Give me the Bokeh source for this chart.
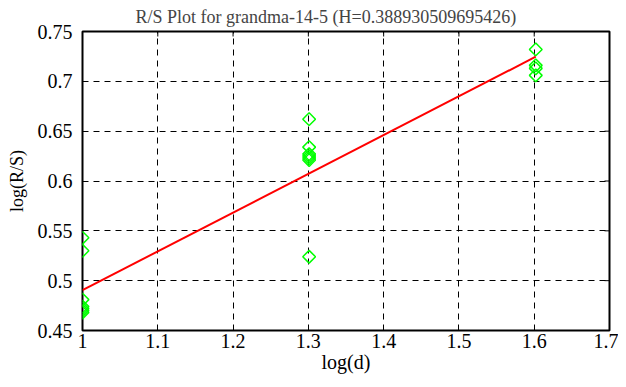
import numpy as np
from bokeh.plotting import figure
from bokeh.models import FixedTicker, Range1d
from bokeh.embed import file_html
from bokeh.resources import INLINE

title_text = "R/S Plot for grandma-14-5 (H=0.388930509695426)"

# data: log(d) and log(R/S)
x_d10 = [1.0] * 7
y_d10 = [0.543, 0.530, 0.481, 0.474, 0.472, 0.470, 0.468]
x_d20 = [1.30103] * 7
y_d20 = [0.662, 0.634, 0.627, 0.625, 0.623, 0.621, 0.524]
x_d40 = [1.60206] * 4
y_d40 = [0.732, 0.716, 0.713, 0.706]

fit_x = [1.0, 1.60206]
fit_y = [0.4905, 0.7247]

x_ticks = [1.0, 1.1, 1.2, 1.3, 1.4, 1.5, 1.6, 1.7]
x_tick_labels = ["1", "1.1", "1.2", "1.3", "1.4", "1.5", "1.6", "1.7"]
y_ticks = [0.45, 0.5, 0.55, 0.6, 0.65, 0.7, 0.75]
y_tick_labels = ["0.45", "0.5", "0.55", "0.6", "0.65", "0.7", "0.75"]

FONT = "Liberation Serif"
X0, X1 = 1.0, 1.7
Y0, Y1 = 0.45, 0.75
W, H = 618, 379
BL, BR, BT, BB = 82, 9, 31, 49
TICK_PX = 5

p = figure(width=W, height=H, output_backend="svg", toolbar_location=None,
           x_range=Range1d(X0, X1), y_range=Range1d(Y0, Y1),
           min_border_left=BL, min_border_right=BR, min_border_top=BT, min_border_bottom=BB)
p.background_fill_color = "white"
p.border_fill_color = "white"
p.outline_line_color = "black"
p.outline_line_width = 2

p.title.text = title_text
p.title.text_font = FONT
p.title.text_font_size = "18px"
p.title.text_font_style = "normal"
p.title.align = "left"
p.title.offset = 53
p.title.standoff = 9

frame_h = H - BT - BB
for g, t in ((p.xgrid[0], x_ticks), (p.ygrid[0], y_ticks)):
    g.ticker = FixedTicker(ticks=t)
    g.grid_line_color = "black"
    g.grid_line_dash = "6 5"
    g.grid_line_width = 1

# inward ticks on the top and right edges of the box
dy = TICK_PX * (Y1 - Y0) / frame_h
dx = TICK_PX * (X1 - X0) / (W - BL - BR)
p.segment(x0=x_ticks, y0=[Y1] * len(x_ticks), x1=x_ticks, y1=[Y1 - dy] * len(x_ticks),
          line_color="black", line_width=1)
p.segment(x0=[X1] * len(y_ticks), y0=y_ticks, x1=[X1 - dx] * len(y_ticks), y1=y_ticks,
          line_color="black", line_width=1)

xs = x_d10 + x_d20 + x_d40
ys = y_d10 + y_d20 + y_d40
p.scatter(xs, ys, marker="square", angle=np.pi / 4, size=9,
          fill_color=None, line_color="#00ff00", line_width=1.5)
p.line(fit_x, fit_y, line_color="#ff0000", line_width=2)

def style_axis(ax, ticks, labels):
    ax.ticker = FixedTicker(ticks=ticks)
    ax.major_label_overrides = {t: l for t, l in zip(ticks, labels)}
    ax.major_tick_in = TICK_PX
    ax.major_tick_out = 0
    ax.minor_tick_line_color = None
    ax.axis_line_color = None
    ax.major_tick_line_color = "black"
    ax.major_tick_line_width = 1
    ax.major_label_text_font = FONT
    ax.major_label_text_font_size = "20px"
    ax.major_label_text_color = "black"
    ax.axis_label_text_font = FONT
    ax.axis_label_text_font_style = "normal"
    ax.axis_label_text_color = "black"

style_axis(p.xaxis[0], x_ticks, x_tick_labels)
style_axis(p.yaxis[0], y_ticks, y_tick_labels)
p.xaxis[0].axis_label = "log(d)"
p.yaxis[0].axis_label = "log(R/S)"
p.xaxis[0].axis_label_text_font_size = "20px"
p.yaxis[0].axis_label_text_font_size = "18px"
p.xaxis[0].major_label_standoff = 3
p.yaxis[0].major_label_standoff = 10
p.xaxis[0].axis_label_standoff = 0
p.yaxis[0].axis_label_standoff = 8

open("out.html", "w").write(file_html(p, INLINE))
